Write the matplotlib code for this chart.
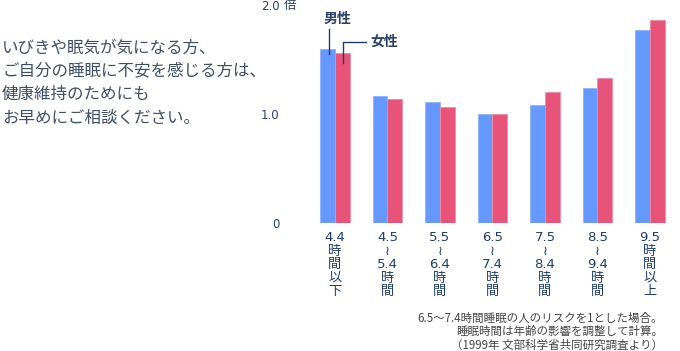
import matplotlib.pyplot as plt
import numpy as np

plt.rcParams['font.family'] = ['DejaVu Sans', 'Noto Sans CJK JP']

groups = ["4.4\n時\n間\n以\n下", "4.5\n≀\n5.4\n時\n間", "5.5\n≀\n6.4\n時\n間",
          "6.5\n≀\n7.4\n時\n間", "7.5\n≀\n8.4\n時\n間", "8.5\n≀\n9.4\n時\n間",
          "9.5\n時\n間\n以\n上"]
male = [1.60, 1.17, 1.11, 1.00, 1.08, 1.24, 1.77]
female = [1.56, 1.135, 1.065, 1.00, 1.20, 1.33, 1.87]

jp = ['Noto Sans CJK JP', 'DejaVu Sans']

fig = plt.figure(figsize=(6.8, 3.51), dpi=100)
ax = fig.add_axes([0.454, 0.3655, 0.5404, 0.619])

x = np.arange(len(groups))
w = 0.28
ax.bar(x - w / 2, male, w, color='#6699ff', edgecolor='#8fb3ff', linewidth=0.6)
ax.bar(x + w / 2, female, w, color='#e85479', edgecolor='#f08aa5', linewidth=0.6)

ax.set_xlim(-0.5, 6.5)
ax.set_ylim(0, 2.0)
for s in ax.spines.values():
    s.set_visible(False)

ax.set_yticks([0, 1.0, 2.0])
ax.set_yticklabels(['0', '1.0', '2.0'], color='#2b4166', fontsize=8.5)
ax.tick_params(axis='y', length=0, pad=21)
ax.set_xticks(x)
ax.set_xticklabels(groups, color='#1f3d6b', fontsize=9.5, linespacing=1.06,
                   va='top')
ax.tick_params(axis='x', length=0, pad=6)

# 倍 after 2.0
ax.text(-0.98, 2.0, '倍', color='#2b4166', fontsize=9, va='center', ha='left',
        family=jp, clip_on=False)

# legend callouts
navy = '#1f3d6b'
ax.plot([-0.109, -0.109], [1.78, 1.55], color=navy, lw=1, clip_on=False)
ax.text(0.05, 1.88, '男性', color='#2b4166', fontsize=10, ha='center', va='center',
        fontweight='bold', family=jp)
ax.plot([0.59, 0.147, 0.147], [1.665, 1.665, 1.47], color=navy, lw=1, clip_on=False)
ax.text(0.667, 1.665, '女性', color='#2b4166', fontsize=10, ha='left', va='center',
        fontweight='bold', family=jp)

# left message
msg = ["いびきや眠気が気になる方、", "ご自分の睡眠に不安を感じる方は、",
       "健康維持のためにも", "お早めにご相談ください。"]
for i, line in enumerate(msg):
    fig.text(0.003, 1 - (48 + 23.3 * i) / 351, line, color='#3d4e66',
             fontsize=11.9, va='center', ha='left', family=jp)

# footnote
notes = ["6.5〜7.4時間睡眠の人のリスクを1とした場合。",
         "睡眠時間は年齢の影響を調整して計算。",
         "（1999年 文部科学省共同研究調査より）"]
for i, line in enumerate(notes):
    fig.text(663 / 680, 1 - (318 + 13.5 * i) / 351, line, color='#444444',
             fontsize=8.3, va='center', ha='right', family=jp)

fig.savefig('out.png', dpi=100)
